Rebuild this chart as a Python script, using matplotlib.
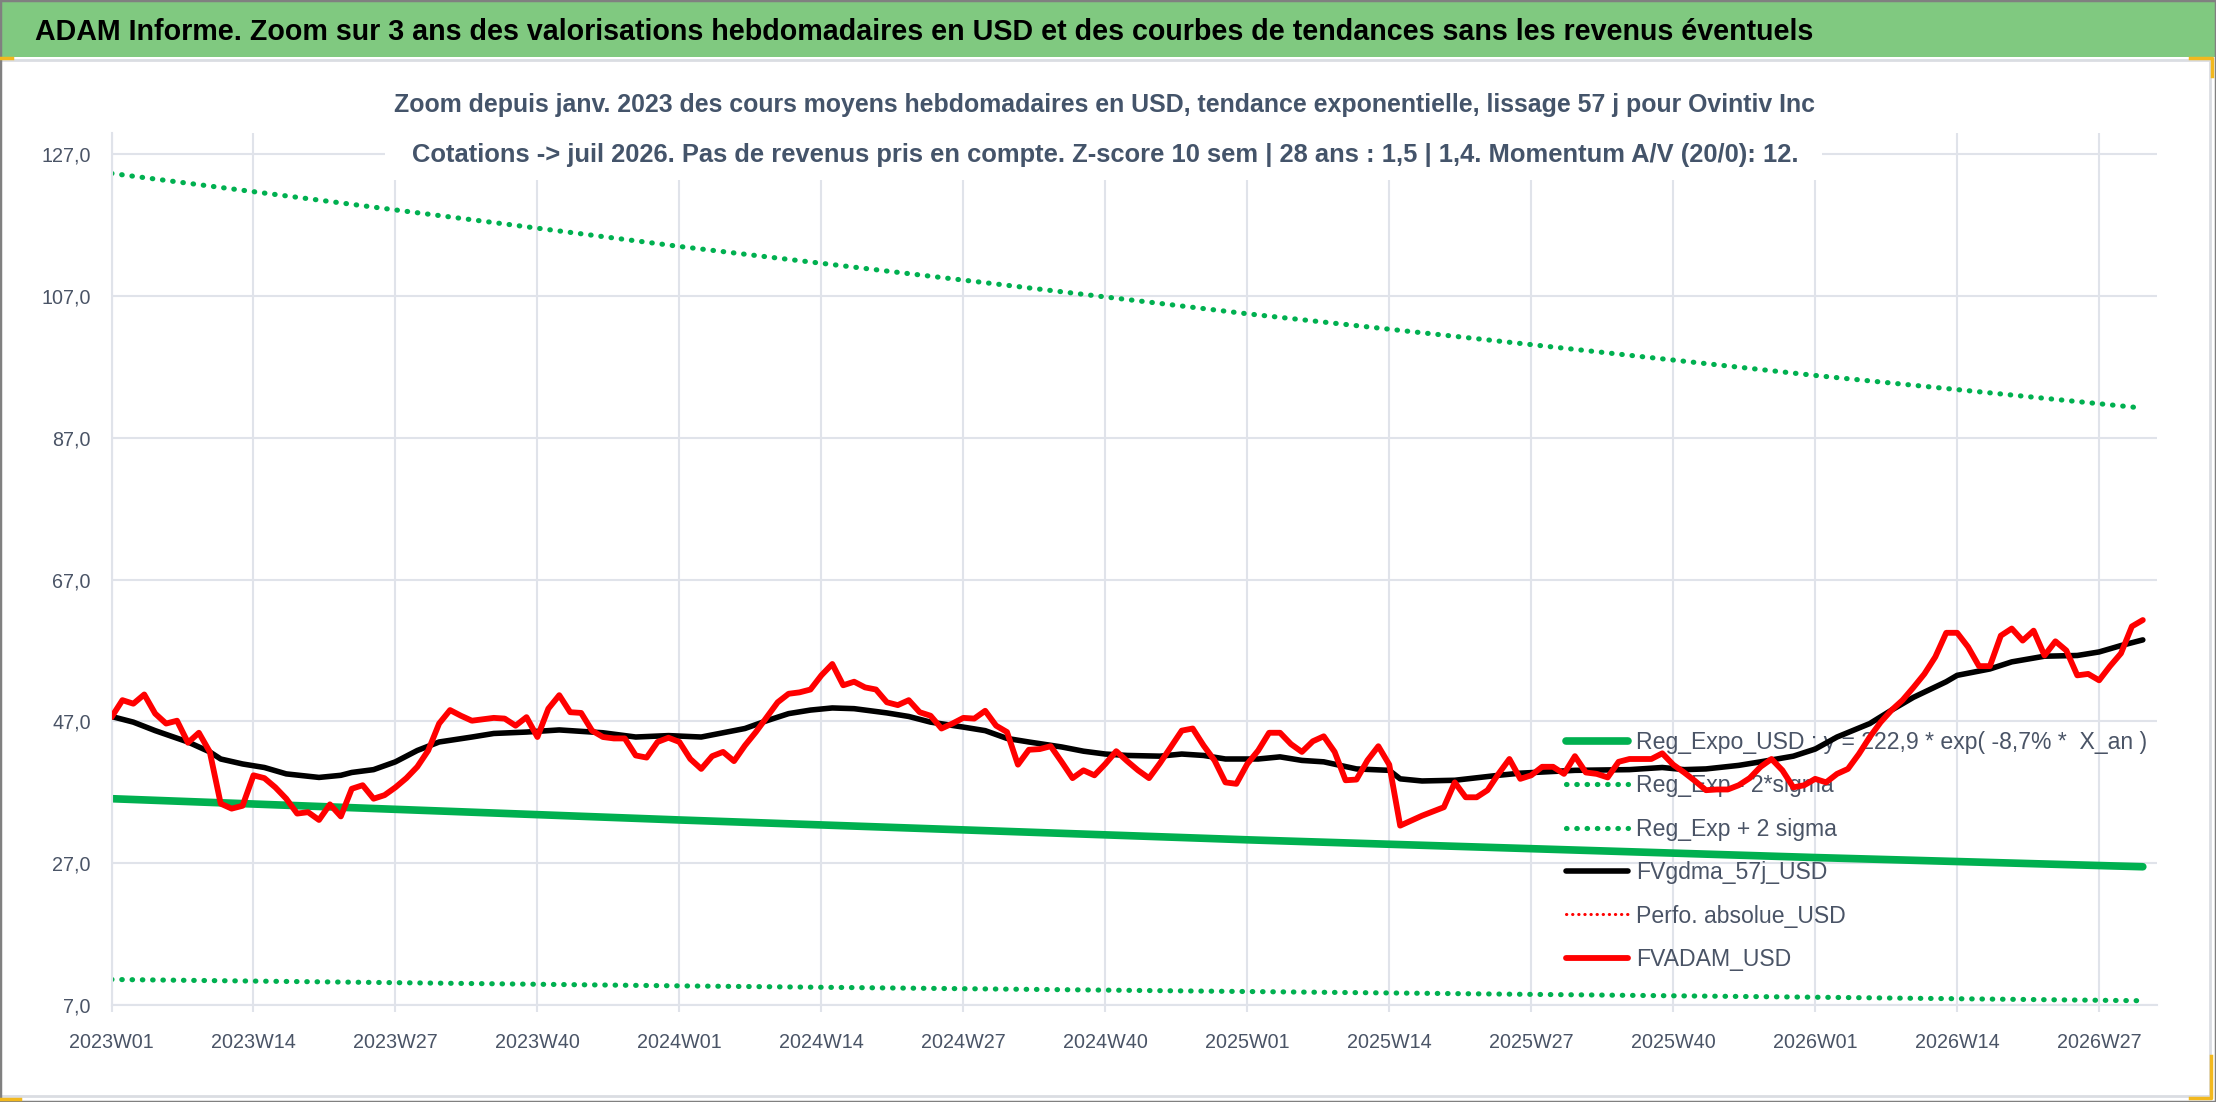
import numpy as np
import matplotlib
matplotlib.use('Agg')
import matplotlib.pyplot as plt
from matplotlib.patches import Rectangle
from matplotlib.lines import Line2D

# police proche de Calibri (Liberation Sans en pratique)
FONT = ['Liberation Sans', 'DejaVu Sans']

titre = "ADAM Informe. Zoom sur 3 ans des valorisations hebdomadaires en USD et des courbes de tendances sans les revenus éventuels"
sous_titre1 = "Zoom depuis janv. 2023 des cours moyens hebdomadaires en USD, tendance exponentielle, lissage 57 j pour Ovintiv Inc"
sous_titre2 = "Cotations -> juil 2026. Pas de revenus pris en compte. Z-score 10 sem | 28 ans : 1,5 | 1,4. Momentum A/V (20/0): 12."

# semaines ISO par an
annees = [2023, 2024, 2025, 2026]
nb_semaines = [52, 52, 52, 53]

# FVADAM_USD (cours moyens hebdo)
fvadam = [47.6, 50.0, 49.5, 50.8, 48.1, 46.7, 47.1, 44.0, 45.4, 42.7,
          35.4, 34.7, 35.1, 39.4, 39.0, 37.7, 36.1, 34.0, 34.2, 33.1,
          35.3, 33.6, 37.5, 38.0, 36.1, 36.6, 37.7, 39.0, 40.6, 42.9,
          46.7, 48.6, 47.8, 47.1, 47.3, 47.5, 47.4, 46.4, 47.6, 44.8,
          48.8, 50.7, 48.3, 48.2, 45.7, 44.8, 44.6, 44.6, 42.2, 41.9,
          44.1, 44.7, 44.1, 41.7, 40.3, 42.1, 42.7, 41.4, 43.6, 45.5,
          47.6, 49.7, 50.9, 51.1, 51.5, 53.5, 55.1, 52.1, 52.6, 51.8,
          51.5, 49.7, 49.3, 50.0, 48.3, 47.8, 46.0, 46.7, 47.5, 47.4,
          48.5, 46.4, 45.5, 40.9, 43.0, 43.1, 43.5, 41.3, 39.0, 40.1,
          39.4, 41.0, 42.8, 41.4, 40.1, 39.0, 41.1, 43.4, 45.7, 46.0,
          43.6, 41.5, 38.4, 38.2, 41.0, 42.9, 45.4, 45.4, 43.8, 42.7,
          44.2, 44.9, 42.7, 38.7, 38.8, 41.5, 43.5, 40.9, 32.3, 33.0,
          33.7, 34.3, 34.9, 38.4, 36.3, 36.3, 37.3, 39.6, 41.7, 38.9,
          39.4, 40.6, 40.6, 39.6, 42.1, 39.8, 39.6, 39.1, 41.3, 41.7,
          41.7, 41.7, 42.5, 40.9, 39.8, 38.6, 37.3, 37.4, 37.4, 38.0,
          39.0, 40.6, 41.7, 40.1, 37.7, 38.0, 38.9, 38.4, 39.6, 40.3,
          42.4, 44.8, 46.9, 48.6, 50.0, 51.8, 53.7, 56.1, 59.5, 59.5,
          57.5, 54.8, 54.8, 59.1, 60.1, 58.4, 59.8, 56.3, 58.3, 57.0,
          53.5, 53.7, 52.8, 54.8, 56.6, 60.4, 61.3]

# FVgdma_57j_USD (lissage), relevé à quelques semaines
gdma_sem = [0, 2, 4, 7, 9, 10, 12, 14, 16, 19, 21, 22, 24, 26, 28, 30, 33, 35, 38, 41,
            43, 45, 48, 51, 54, 56, 58, 60, 62, 64, 66, 68, 71, 73, 75, 78, 80, 82, 84, 87,
            89, 91, 93, 96, 98, 100, 102, 105, 107, 109, 111, 114, 117, 118, 120, 123, 127, 129, 134, 139,
            142, 144, 146, 149, 151, 154, 156, 158, 161, 163, 165, 168, 169, 172, 174, 177, 180, 182, 184, 186]
gdma_val = [47.7, 46.9, 45.7, 44.1, 42.7, 41.7, 41.0, 40.5, 39.6, 39.1, 39.4, 39.8, 40.2, 41.3, 42.9, 44.1, 44.8, 45.3, 45.5, 45.8,
            45.6, 45.4, 44.8, 45.0, 44.8, 45.4, 46.0, 47.1, 48.1, 48.6, 48.9, 48.8, 48.2, 47.7, 46.9, 46.2, 45.7, 44.6, 44.1, 43.4,
            42.8, 42.4, 42.2, 42.1, 42.4, 42.2, 41.7, 41.7, 42.0, 41.5, 41.3, 40.3, 40.1, 38.9, 38.6, 38.7, 39.4, 39.7, 40.1, 40.2,
            40.5, 40.2, 40.3, 40.8, 41.3, 42.1, 43.1, 44.8, 46.7, 48.6, 50.4, 52.6, 53.5, 54.4, 55.4, 56.2, 56.3, 56.8, 57.7, 58.5]

# regression expo et bandes +/- 2 sigma
reg_sem = [0, 52, 104, 156, 186]
reg_expo = [36.1, 33.1, 30.3, 27.8, 26.5]
reg_moins = [10.6, 9.7, 8.9, 8.1, 7.6]
reg_plus = [124.3, 114.0, 104.5, 95.8, 91.2]

y_ticks = [7, 27, 47, 67, 87, 107, 127]

W, H = 2216, 1102
fig = plt.figure(figsize=(W / 100, H / 100), dpi=100)
renderer = fig.canvas.get_renderer()

def ajuste(txt, largeur_px):
    # ajuste la taille de police pour obtenir la largeur voulue
    w = txt.get_window_extent(renderer).width
    txt.set_fontsize(txt.get_fontsize() * largeur_px / w)
    return txt.get_fontsize()

def taille_pour(chaine, largeur_px, **kw):
    t = fig.text(0, 0, chaine, fontsize=10, family=FONT, **kw)
    s = ajuste(t, largeur_px)
    t.remove()
    return s

def trait(xs, ys, **kw):
    # trait en pixels de la figure
    fig.add_artist(Line2D([v / W for v in xs], [1 - v / H for v in ys],
                          transform=fig.transFigure, **kw))

# bandeau vert du titre + cadre
fig.add_artist(Rectangle((0, 1 - 57 / H), 1, 57 / H, transform=fig.transFigure,
                         facecolor='#80C980', edgecolor='none', zorder=0))
trait([0, 2210], [60, 60], color='#DADDE2', lw=2, zorder=0)
trait([2210, 2210], [60, 1098], color='#DADDE2', lw=2, zorder=0)
trait([0, 2210], [1096, 1096], color='#DADDE2', lw=2, zorder=0)
fig.add_artist(Rectangle((0, 0), 1, 1, transform=fig.transFigure, fill=False,
                         edgecolor='#808080', lw=2.5, zorder=10))
# poignées de sélection jaunes (Excel)
jaune = '#F2B81E'
trait([0, 12], [58, 58], color=jaune, lw=2.5, zorder=11)
trait([2190, 2212, 2212], [58, 58, 76], color=jaune, lw=2.5, zorder=11)
trait([0, 20], [1099, 1099], color=jaune, lw=2.5, zorder=11)
trait([2190, 2211, 2211], [1098, 1098, 1056], color=jaune, lw=2.5, zorder=11)

t = fig.text(35 / W, 1 - 32 / H, titre, ha='left', va='center', fontsize=20,
             weight='bold', color='black', family=FONT, zorder=5)
ajuste(t, 1780)

ax = fig.add_axes([111.5 / W, 1 - 1005 / H, (2157 - 111.5) / W, (1005 - 133) / H])

x = np.arange(len(fvadam))
etiquettes = []
for a, n in zip(annees, nb_semaines):
    for s in range(1, n + 1):
        etiquettes.append(f'{a}W{s:02d}')
etiquettes = etiquettes[:len(fvadam)]

vert = '#00B050'
pointille = (0, (0.1, 1.9))
ax.plot(reg_sem, reg_expo, color=vert, lw=5.5, solid_capstyle='round',
        label='Reg_Expo_USD : y = 222,9 * exp( -8,7% *  X_an )', zorder=2)
ax.plot(reg_sem, reg_moins, color=vert, lw=3.7, linestyle=pointille,
        dash_capstyle='round', label='Reg_Exp - 2*sigma', zorder=2)
ax.plot(reg_sem, reg_plus, color=vert, lw=3.7, linestyle=pointille,
        dash_capstyle='round', label='Reg_Exp + 2 sigma', zorder=2)
ax.plot(gdma_sem, gdma_val, color='black', lw=4.0, solid_joinstyle='round',
        solid_capstyle='round', label='FVgdma_57j_USD', zorder=3)
ax.plot([], [], color='#FF0000', lw=2.2, linestyle=pointille, dash_capstyle='round',
        label='Perfo. absolue_USD')
ax.plot(x, fvadam, color='#FF0000', lw=4.2, solid_joinstyle='round',
        solid_capstyle='round', label='FVADAM_USD', zorder=4)

ax.set_xlim(0, 187.3)
ax.set_ylim(7, 130)
ax.set_yticks(y_ticks)
ax.set_yticklabels([f'{v:.1f}'.replace('.', ',') for v in y_ticks])
pos = list(range(0, len(fvadam), 13))
ax.set_xticks(pos)
ax.set_xticklabels([etiquettes[p] for p in pos])

grille = '#E0E3EA'
ax.grid(True, color=grille, lw=1.5)
ax.set_axisbelow(True)
for c in ['top', 'right']:
    ax.spines[c].set_visible(False)
for c in ['left', 'bottom']:
    ax.spines[c].set_color(grille)
    ax.spines[c].set_linewidth(1.5)

coul_txt = '#4A5466'
fs_ticks = taille_pour('2023W01', 85)
ax.tick_params(axis='x', length=5, width=1.5, color=grille, pad=15,
               labelsize=fs_ticks, labelcolor=coul_txt)
ax.tick_params(axis='y', length=0, pad=15, labelsize=fs_ticks, labelcolor=coul_txt)
for lab in ax.get_xticklabels() + ax.get_yticklabels():
    lab.set_family(FONT)

# cache blanc sous les sous-titres
fig.add_artist(Rectangle((385 / W, 1 - 180 / H), (1822 - 385) / W, (180 - 64) / H,
                         transform=fig.transFigure, facecolor='white', edgecolor='none', zorder=3))
coul_st = '#44546A'
t1 = fig.text(1105 / W, 1 - 105 / H, sous_titre1, ha='center', va='center', fontsize=16,
              weight='bold', color=coul_st, family=FONT, zorder=5)
ajuste(t1, 1421)
t2 = fig.text(1105 / W, 1 - 155 / H, sous_titre2, ha='center', va='center', fontsize=16,
              weight='bold', color=coul_st, family=FONT, zorder=5)
ajuste(t2, 1384)

# legende sans cadre, sous les courbes
fs_leg = taille_pour('Reg_Expo_USD : y = 222,9 * exp( -8,7% *  X_an )', 512)
fs_px = fs_leg * 100 / 72
leg = ax.legend(loc='upper left', bbox_to_anchor=(1566 / W, 1 - (745 - 0.62 * fs_px) / H),
                bbox_transform=fig.transFigure, frameon=False, borderpad=0, borderaxespad=0,
                handlelength=62 / fs_px, handletextpad=8 / fs_px,
                labelspacing=(48 - 1.2 * fs_px) / fs_px,
                prop={'family': FONT, 'size': fs_leg})
for tx in leg.get_texts():
    tx.set_color(coul_txt)
leg.set_zorder(1)

fig.savefig('out.png', dpi=100)
